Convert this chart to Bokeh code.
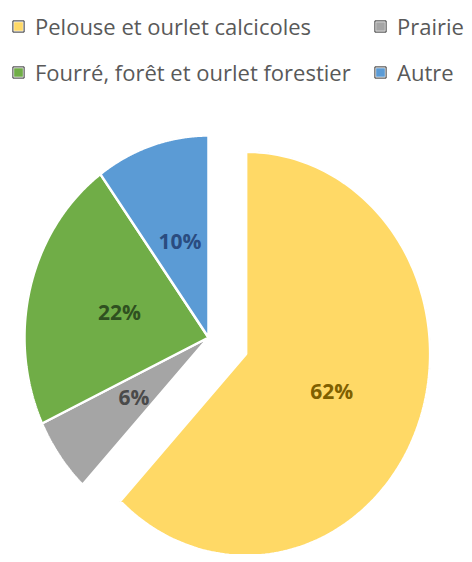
import numpy as np
from bokeh.plotting import figure
from bokeh.models import Range1d, Legend, LegendItem, ColumnDataSource
from bokeh.embed import file_html
from bokeh.resources import INLINE
from bokeh.core.properties import value

# ---- data ----
categories = ["Pelouse et ourlet calcicoles", "Prairie",
              "Fourré, forêt et ourlet forestier", "Autre"]
values = [62, 6, 22, 10]
labels = ["62%", "6%", "22%", "10%"]
colors = ["#FFD966", "#A5A5A5", "#70AD47", "#5B9BD5"]
label_colors = ["#7F6000", "#4A4A4A", "#2F5020", "#2A4C80"]
explode = [0.22, 0.0, 0.0, 0.0]

# ---- layout constants (screen-like coordinates, y downward) ----
W, H = 464, 554
CX, CY = 208, 337     # pie centre
RX, RY = 184, 202     # radii
LABEL_POS = 0.5

p = figure(width=W, height=H, output_backend="svg", toolbar_location=None,
           x_range=Range1d(0, W), y_range=Range1d(H, 0), min_border=0)
p.axis.visible = False
p.grid.visible = False
p.outline_line_color = None
p.background_fill_color = "white"
p.border_fill_color = "white"

total = float(sum(values))
fr = np.array(values) / total
ends = np.cumsum(fr) * 2 * np.pi
starts = ends - fr * 2 * np.pi
mids = (starts + ends) / 2

xs, ys, lx, ly = [], [], [], []
for s, e, m, ex in zip(starts, ends, mids, explode):
    ox = CX + ex * RX * np.sin(m)
    oy = CY - ex * RY * np.cos(m)
    t = np.linspace(s, e, 160)
    xs.append([ox] + list(ox + RX * np.sin(t)))
    ys.append([oy] + list(oy - RY * np.cos(t)))
    lx.append(ox + LABEL_POS * RX * np.sin(m))
    ly.append(oy - LABEL_POS * RY * np.cos(m))

src = ColumnDataSource(dict(xs=xs, ys=ys, color=colors))
# dark outline (hidden beneath the slices' white stroke; shows in legend)
r_border = p.patches("xs", "ys", source=src, fill_alpha=0,
                     line_color="#333333", line_width=1.0, line_join="round")
r_slice = p.patches("xs", "ys", source=src, fill_color="color",
                    line_color="white", line_width=2.5)

tsrc = ColumnDataSource(dict(x=lx, y=ly, text=labels, c=label_colors))
p.text("x", "y", text="text", source=tsrc, text_color="c",
       text_font=value("Open Sans"), text_font_style="bold",
       text_font_size="21px", text_align="center", text_baseline="middle")

items = [LegendItem(label=cat, renderers=[r_slice, r_border], index=i)
         for i, cat in enumerate(categories)]

legend = Legend(items=items, location="top_left", orientation="horizontal",
                ncols=2, margin=11, padding=0, spacing=16,
                glyph_width=14, glyph_height=14, label_standoff=10,
                label_width=322, label_height=24,
                label_text_font="Open Sans",
                label_text_font_size="22px", label_text_color="#595959",
                border_line_color=None, background_fill_alpha=0)
p.add_layout(legend)

open("out.html", "w").write(file_html(p, INLINE))
